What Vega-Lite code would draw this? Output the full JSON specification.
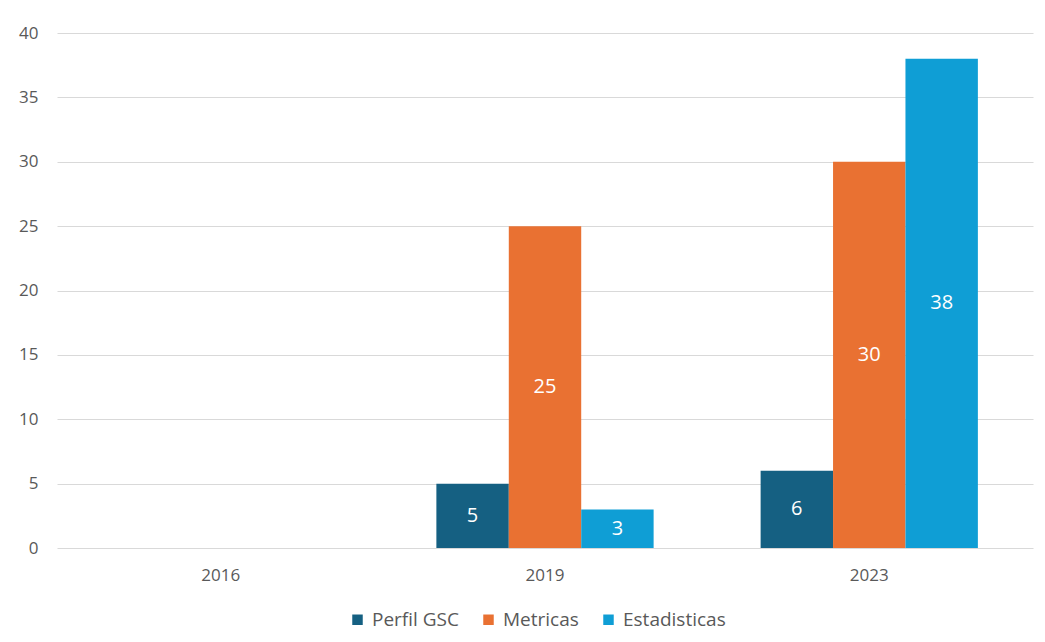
{
  "$schema": "https://vega.github.io/schema/vega-lite/v6.json",
  "width": 976,
  "height": 515,
  "autosize": "none",
  "padding": {"left": 57, "top": 33, "right": 12, "bottom": 94},
  "background": "white",
  "data": {
    "values": [
      {"year": "2019", "serie": "Perfil GSC", "v": 5},
      {"year": "2019", "serie": "Metricas", "v": 25},
      {"year": "2019", "serie": "Estadisticas", "v": 3},
      {"year": "2023", "serie": "Perfil GSC", "v": 6},
      {"year": "2023", "serie": "Metricas", "v": 30},
      {"year": "2023", "serie": "Estadisticas", "v": 38}
    ]
  },
  "encoding": {
    "x": {
      "field": "year", "type": "nominal",
      "scale": {"domain": ["2016", "2019", "2023"], "paddingInner": 0.33, "paddingOuter": 0.17},
      "axis": {"title": null, "labelAngle": 0, "ticks": false, "domain": false, "labelPadding": 19, "labelFontSize": 17, "labelColor": "#595959", "labelFont": "Open Sans"}
    },
    "xOffset": {
      "field": "serie", "type": "nominal",
      "scale": {"domain": ["Perfil GSC", "Metricas", "Estadisticas"], "paddingInner": 0, "paddingOuter": 0}
    }
  },
  "layer": [
    {
      "mark": {"type": "bar"},
      "encoding": {
        "y": {
          "field": "v", "type": "quantitative",
          "scale": {"domain": [0, 40]},
          "axis": {"title": null, "values": [0,5,10,15,20,25,30,35,40], "labelOverlap": false, "ticks": false, "domain": false, "gridColor": "#d9d9d9", "gridWidth": 1, "labelPadding": 19, "labelFontSize": 17, "labelColor": "#595959", "labelFont": "Open Sans"}
        },
        "color": {
          "field": "serie", "type": "nominal",
          "scale": {"domain": ["Perfil GSC", "Metricas", "Estadisticas"], "range": ["#156082", "#E97132", "#0F9ED5"]},
          "legend": {"title": null, "orient": "none", "legendX": 291, "legendY": 577, "direction": "horizontal", "symbolType": "square", "symbolSize": 110, "symbolStrokeWidth": 0, "labelFontSize": 19, "labelColor": "#595959", "labelFont": "Open Sans", "columnPadding": 20, "labelOffset": 5}
        }
      }
    },
    {
      "transform": [{"calculate": "datum.v / 2", "as": "mid"}],
      "mark": {"type": "text", "color": "white", "fontSize": 20, "font": "Open Sans", "baseline": "middle"},
      "encoding": {
        "y": {
          "field": "mid", "type": "quantitative",
          "axis": {"title": null, "values": [0,5,10,15,20,25,30,35,40], "labelOverlap": false, "ticks": false, "domain": false, "gridColor": "#d9d9d9", "gridWidth": 1, "labelPadding": 19, "labelFontSize": 17, "labelColor": "#595959", "labelFont": "Open Sans"}
        },
        "text": {"field": "v", "type": "quantitative"}
      }
    }
  ],
  "config": {"view": {"stroke": null}}
}
